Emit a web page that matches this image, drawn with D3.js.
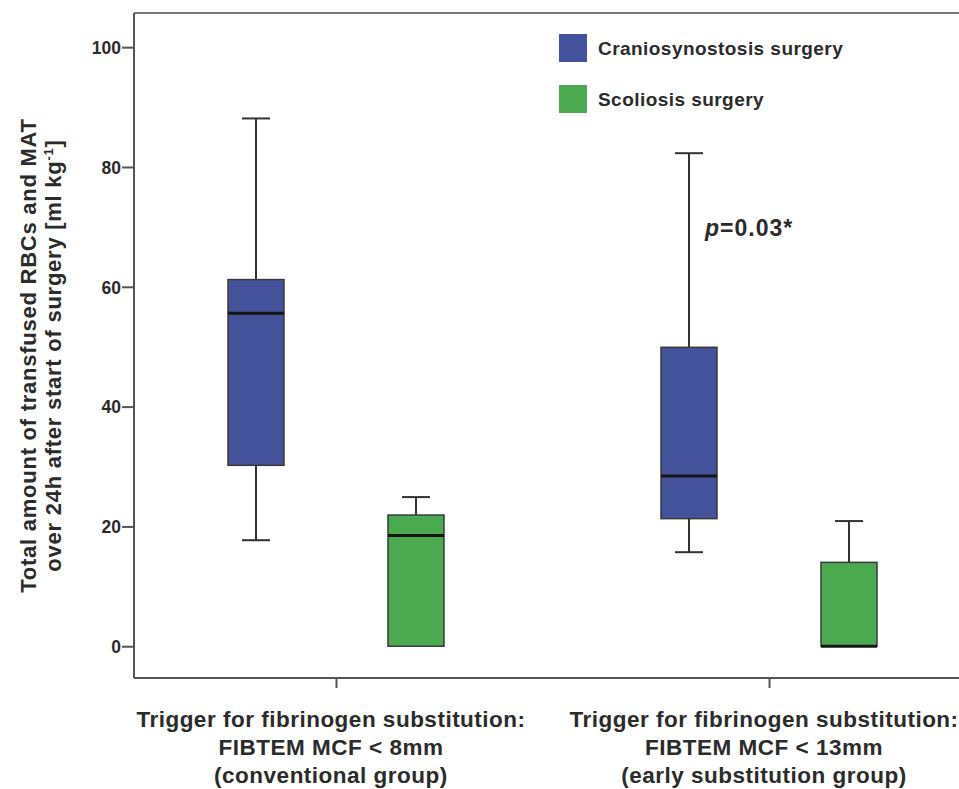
<!DOCTYPE html>
<html><head><meta charset="utf-8">
<script src="https://cdn.jsdelivr.net/npm/d3@7"></script>
<style>body{margin:0;background:#fff}svg{display:block}text{font-family:"Liberation Sans",Arial,sans-serif;font-weight:bold;fill:#2b2b2b}</style>
</head><body><svg id="c" width="959" height="789"></svg>
<script>
const categories = ["conventional", "early"];
const categoryLabels = [
  ["Trigger for fibrinogen substitution:", "FIBTEM MCF < 8mm", "(conventional group)"],
  ["Trigger for fibrinogen substitution:", "FIBTEM MCF < 13mm", "(early substitution group)"]
];
const series = ["Craniosynostosis surgery", "Scoliosis surgery"];
const colors = ["#43529b", "#4baa50"];
// [min, q1, median, q3, max]
const cranioStats = [[17.7, 30.2, 55.6, 61.2, 88.1], [15.7, 21.3, 28.4, 49.9, 82.3]];
const scolioStats = [[0, 0, 18.5, 21.9, 24.9], [0, 0, 0, 14.0, 20.9]];
const yTicks = [0, 20, 40, 60, 80, 100];
const yLabelLines = ["Total amount of transfused RBCs and MAT", "over 24h after start of surgery [ml kg"];

(function () {
const svg = d3.select("#c");
const pL = 134, pT = 13, pB = 678, pR = 980;
const y = d3.scaleLinear().domain([-5.3, 105.7]).range([pB, pT]);
const x = d3.scalePoint().domain(categories).range([pL, 971]).padding(0.4665);
const xs = d3.scaleBand().domain(series).range([-160, 160]);
const boxW = 56, capW = 28;

svg.append("line").attr("x1", pL).attr("x2", pR).attr("y1", pT).attr("y2", pT)
  .attr("stroke", "#777").attr("stroke-width", 2);

const ya = svg.append("g").attr("transform", `translate(${pL},0)`)
  .call(d3.axisLeft(y).tickValues(yTicks).tickSize(12).tickPadding(1).tickSizeOuter(0));
ya.select(".domain").attr("stroke", "#555").attr("stroke-width", 2).attr("d", `M0,${pB}V${pT}`);
ya.selectAll(".tick line").attr("stroke", "#555").attr("stroke-width", 2);
ya.selectAll(".tick text").style("font-size", "17.5px").attr("fill", "#2b2b2b").attr("dy", "0.36em");

const xa = svg.append("g").attr("transform", `translate(0,${pB})`)
  .call(d3.axisBottom(x).tickSize(10).tickSizeOuter(0).tickFormat(""));
xa.select(".domain").attr("stroke", "#555").attr("stroke-width", 2).attr("d", `M${pL},0H${pR}`);
xa.selectAll(".tick line").attr("stroke", "#555").attr("stroke-width", 2);

categories.forEach((c, i) => {
  const t = svg.append("text").attr("text-anchor", "middle").style("font-size", "22.5px")
    .style("letter-spacing", "0.5px");
  categoryLabels[i].forEach((line, j) => {
    t.append("tspan").attr("x", x(c) - 5).attr("y", 727 + j * 28).text(line);
  });
});

const cy = (pT + pB) / 2 + 10;
const yl = svg.append("text").attr("transform", `translate(0,${cy}) rotate(-90)`)
  .attr("text-anchor", "middle").style("font-size", "22px").style("letter-spacing", "0.75px");
yl.append("tspan").attr("x", 0).attr("y", 36).text(yLabelLines[0]);
const yl2 = svg.append("text").attr("transform", `translate(0,${cy}) rotate(-90)`)
  .attr("text-anchor", "middle").style("font-size", "22px").style("letter-spacing", "0.75px");
yl2.append("tspan").attr("x", 0).attr("y", 61).text(yLabelLines[1]);
yl2.append("tspan").attr("dy", -8).style("font-size", "13px").text("-1");
yl2.append("tspan").attr("dy", 8).text("]");

const data = [];
categories.forEach((c, i) => {
  data.push({cat: c, s: 0, st: cranioStats[i]});
  data.push({cat: c, s: 1, st: scolioStats[i]});
});
const g = svg.selectAll(".box").data(data).join("g").attr("class", "box")
  .attr("transform", d => `translate(${x(d.cat) + xs(series[d.s]) + xs.bandwidth() / 2},0)`);
const up = g.filter(d => d.st[4] > d.st[3]);
up.append("line").attr("x1", 0).attr("x2", 0)
  .attr("y1", d => y(d.st[3])).attr("y2", d => y(d.st[4])).attr("stroke", "#333").attr("stroke-width", 2);
up.append("line").attr("x1", -capW / 2).attr("x2", capW / 2)
  .attr("y1", d => y(d.st[4])).attr("y2", d => y(d.st[4])).attr("stroke", "#333").attr("stroke-width", 2);
const dn = g.filter(d => d.st[1] > d.st[0]);
dn.append("line").attr("x1", 0).attr("x2", 0)
  .attr("y1", d => y(d.st[0])).attr("y2", d => y(d.st[1])).attr("stroke", "#333").attr("stroke-width", 2);
dn.append("line").attr("x1", -capW / 2).attr("x2", capW / 2)
  .attr("y1", d => y(d.st[0])).attr("y2", d => y(d.st[0])).attr("stroke", "#333").attr("stroke-width", 2);
g.append("rect").attr("x", -boxW / 2).attr("width", boxW)
  .attr("y", d => y(d.st[3])).attr("height", d => y(d.st[1]) - y(d.st[3]))
  .attr("fill", d => colors[d.s]).attr("stroke", "#3a3a3a").attr("stroke-width", 1.5);
g.append("line").attr("x1", -boxW / 2).attr("x2", boxW / 2)
  .attr("y1", d => y(d.st[2])).attr("y2", d => y(d.st[2])).attr("stroke", "#151515").attr("stroke-width", 3);

series.forEach((s, i) => {
  svg.append("rect").attr("x", 559).attr("y", 34 + i * 51).attr("width", 28).attr("height", 28)
    .attr("fill", colors[i]);
  svg.append("text").attr("x", 598).attr("y", 55 + i * 51).style("font-size", "19px")
    .style("letter-spacing", "0.45px").text(s);
});

const pt = svg.append("text").attr("x", 705).attr("y", 236).style("font-size", "23px")
  .style("letter-spacing", "1px");
pt.append("tspan").style("font-style", "italic").text("p");
pt.append("tspan").text("=0.03*");
})();
</script></body></html>
